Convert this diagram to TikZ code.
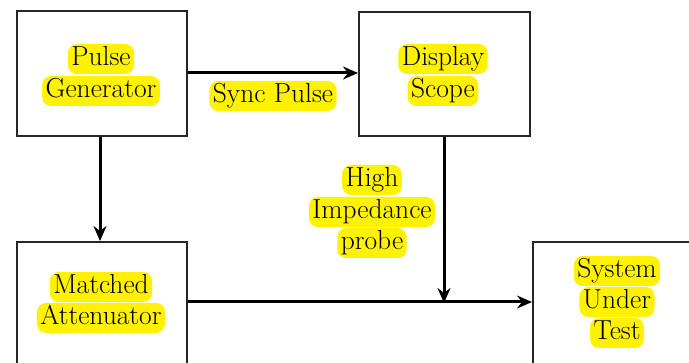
\documentclass[tikz,border=0pt]{standalone}
\usetikzlibrary{arrows.meta}
\tikzset{
  blk/.style={draw=black!85, line width=1.6pt, fill=white, inner sep=0pt},
  hl/.style={fill=yellow, rounded corners=9pt, inner xsep=3.5pt, inner ysep=2pt,
    text height=19.5pt, text depth=6.5pt, font=\rmfamily\fontsize{27.5}{32}\selectfont},
  conn/.style={line width=3pt, -{Stealth[length=15pt,width=13pt,inset=5pt]}},
}
\begin{document}
\begin{tikzpicture}[x=1pt,y=-1pt]
\useasboundingbox (0,0) rectangle (689,363);
\clip (0,0) rectangle (689,363);
% boxes
\node[blk, minimum width=170pt, minimum height=125pt, anchor=north west] (pg) at (16,10) {};
\node[blk, minimum width=171pt, minimum height=124pt, anchor=north west] (ds) at (358,11) {};
\node[blk, minimum width=170pt, minimum height=160pt, anchor=north west] (ma) at (16,241) {};
\node[blk, minimum width=170pt, minimum height=160pt, anchor=north west] (sut) at (532,241) {};
% texts
\node[hl] (pg1) at (101,59) {Pulse};
\node[hl] (pg2) at (101,91) {Generator};
\node[hl] (ds1) at (443,59) {Display};
\node[hl] (ds2) at (443,91) {Scope};
\node[hl] (ma1) at (101,287) {Matched};
\node[hl] (ma2) at (101,318) {Attenuator};
\node[hl] (sut1) at (617,271) {System};
\node[hl] (sut2) at (617,302) {Under};
\node[hl] (sut3) at (617,333) {Test};
\node[hl] (sync) at (273,96) {Sync Pulse};
\node[hl] (hp1) at (372,180) {High};
\node[hl] (hp2) at (372,212) {Impedance};
\node[hl] (hp3) at (372,243) {probe};
% connectors
\coordinate (j) at (444,302);
\draw[conn] (pg.east |- 0,73) -- (ds.west |- 0,73);
\draw[conn] (pg.south -| 100,0) -- (ma.north -| 100,0);
\draw[conn] (ma.east |- j) -- (sut.west |- j);
\draw[conn] (ds.south -| j) -- ([yshift=-1pt]j);
\end{tikzpicture}
\end{document}
